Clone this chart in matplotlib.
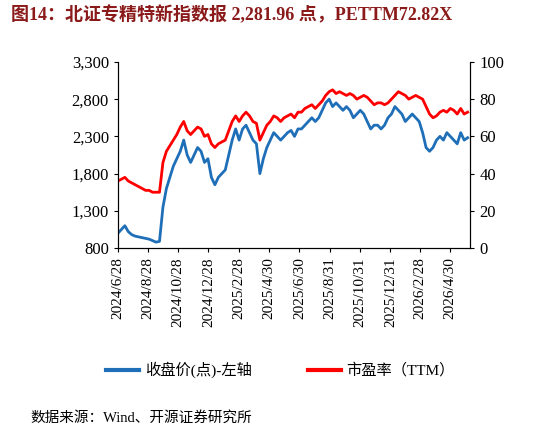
import matplotlib
matplotlib.use("Agg")
import matplotlib.pyplot as plt
import pandas as pd

idx = [1000,1050,1100,1020,980,960,950,940,930,920,900,880,890,
       1350,1600,1750,1900,2000,2100,2250,2050,1950,2050,2150,2100,1950,2000,1750,1650,1750,1800,1850,2050,2250,2400,2250,2400,2450,2350,2250,2200,1800,2000,2150,2250,2350,2300,2250,2300,2350,2380,2300,2400,2400,2450,2500,2550,2500,2550,2650,2750,2800,2700,2750,2700,2650,2700,2650,2550,2600,2650,2600,2500,2400,2450,2450,2400,2450,2550,2600,2700,2650,2600,2500,2550,2600,2550,2500,2350,2150,2100,2150,2250,2300,2250,2350,2300,2250,2200,2350,2250,2282]
pe = [36,37,38,36,35,34,33,32,31,31,30,30,30,
      46,52,55,58,61,65,68,63,61,63,65,64,60,61,56,54,56,57,58,63,68,71,68,71,73,71,68,67,58,62,66,68,71,70,68,70,71,72,70,73,73,75,76,77,75,77,79,82,84,85,83,84,83,82,83,82,80,81,82,81,79,77,78,78,77,78,80,82,84,83,82,80,81,82,81,80,76,72,70,71,73,74,73,75,74,72,75,72,73]
dates = pd.date_range("2024-06-28", periods=len(idx), freq="7D")
tick_labels = ["2024/6/28","2024/8/28","2024/10/28","2024/12/28","2025/2/28","2025/4/30",
               "2025/6/30","2025/8/31","2025/10/31","2025/12/31","2026/2/28","2026/4/30"]
tick_dates = pd.to_datetime(tick_labels, format="%Y/%m/%d")

serif = ["Liberation Serif", "Noto Sans CJK SC"]
fig = plt.figure(figsize=(5.46, 4.36), dpi=100)
ax = fig.add_axes([0.216, 0.431, 0.645, 0.427])
ax.plot(dates, idx, color="#1F6FB8", lw=2)
ax.set_ylim(800, 3300)
ax.set_yticks(range(800, 3301, 500))
ax.set_yticklabels([f"{v:,}" for v in range(800, 3301, 500)], family=serif, fontsize=12)
ax.set_xlim(dates[0], dates[-1] + pd.Timedelta(days=5))
ax.set_xticks(tick_dates)
ax.set_xticklabels(tick_labels, rotation=90, family=serif, fontsize=11)
ax2 = ax.twinx()
ax2.plot(dates, pe, color="#FF0000", lw=2)
ax2.set_ylim(0, 100)
ax2.set_yticks(range(0, 101, 20))
ax2.set_yticklabels([str(v) for v in range(0, 101, 20)], family=serif, fontsize=12)
for a in (ax, ax2):
    a.spines["top"].set_visible(False)
    a.tick_params(length=3)

fig.text(0.02, 0.965, "图14：北证专精特新指数报 2,281.96 点，PETTM72.82X", family=serif,
         fontsize=13, fontweight="bold", color="#8B1A1A", va="center")
fig.add_artist(plt.Line2D([0.195, 0.255], [0.152, 0.152], color="#1F6FB8", lw=3))
fig.text(0.265, 0.152, "收盘价(点)-左轴", family=serif, fontsize=11, va="center")
fig.add_artist(plt.Line2D([0.565, 0.625], [0.152, 0.152], color="#FF0000", lw=3))
fig.text(0.635, 0.152, "市盈率（TTM）", family=serif, fontsize=11, va="center")
fig.text(0.055, 0.042, "数据来源：Wind、开源证券研究所", family=serif, fontsize=10.5, va="center")
fig.savefig("out.png", dpi=100)
